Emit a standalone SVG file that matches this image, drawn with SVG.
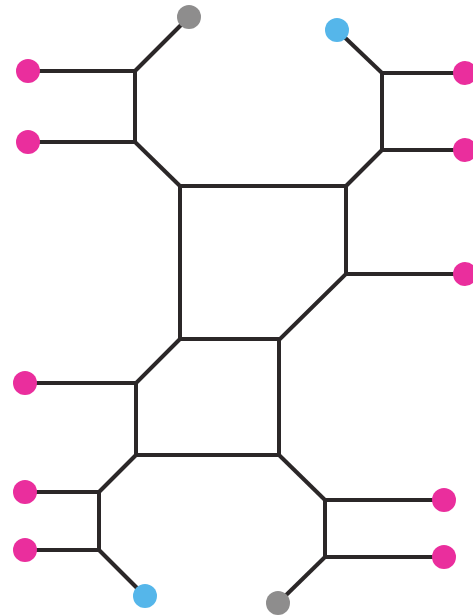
<svg xmlns="http://www.w3.org/2000/svg" width="473" height="615" viewBox="0 0 473 615">
<style>
.e{fill:none;stroke:#2b2728;stroke-width:4;stroke-linejoin:miter;stroke-linecap:butt}
.p{fill:#ea2e9d}
.b{fill:#55b6ea}
.g{fill:#8e8d8d}
</style>
<rect width="473" height="615" fill="#fff"/>
<g id="connectors" class="e">
<path d="M28,71H135V142H28"/>
<path d="M135,71L189,17"/>
<path d="M135,142L180,186"/>
<path d="M465,73H382V150H465"/>
<path d="M382,73L337,30"/>
<path d="M382,150L346,186"/>
<path d="M180,186H346V274L280,339H180Z"/>
<path d="M346,274H465"/>
<path d="M180,339L136,383V455H279V339"/>
<path d="M136,383H25"/>
<path d="M136,455L99,492"/>
<path d="M25,492H99V550H25"/>
<path d="M99,550L145,596"/>
<path d="M279,455L325,500"/>
<path d="M444,500H325V557H444"/>
<path d="M325,557L278,603"/>
</g>
<g id="n1"><circle class="g" cx="189" cy="17" r="12"/></g>
<g id="n2"><circle class="p" cx="28" cy="71" r="12"/></g>
<g id="n3"><circle class="p" cx="28" cy="142" r="12"/></g>
<g id="n4"><circle class="b" cx="337" cy="30" r="12"/></g>
<g id="n5"><circle class="p" cx="465" cy="73" r="12"/></g>
<g id="n6"><circle class="p" cx="465" cy="150" r="12"/></g>
<g id="n7"><circle class="p" cx="465" cy="274" r="12"/></g>
<g id="n8"><circle class="p" cx="25" cy="383" r="12"/></g>
<g id="n9"><circle class="p" cx="25" cy="492" r="12"/></g>
<g id="n10"><circle class="p" cx="25" cy="550" r="12"/></g>
<g id="n11"><circle class="b" cx="145" cy="596" r="12"/></g>
<g id="n12"><circle class="g" cx="278" cy="603" r="12"/></g>
<g id="n13"><circle class="p" cx="444" cy="500" r="12"/></g>
<g id="n14"><circle class="p" cx="444" cy="557" r="12"/></g>
</svg>
